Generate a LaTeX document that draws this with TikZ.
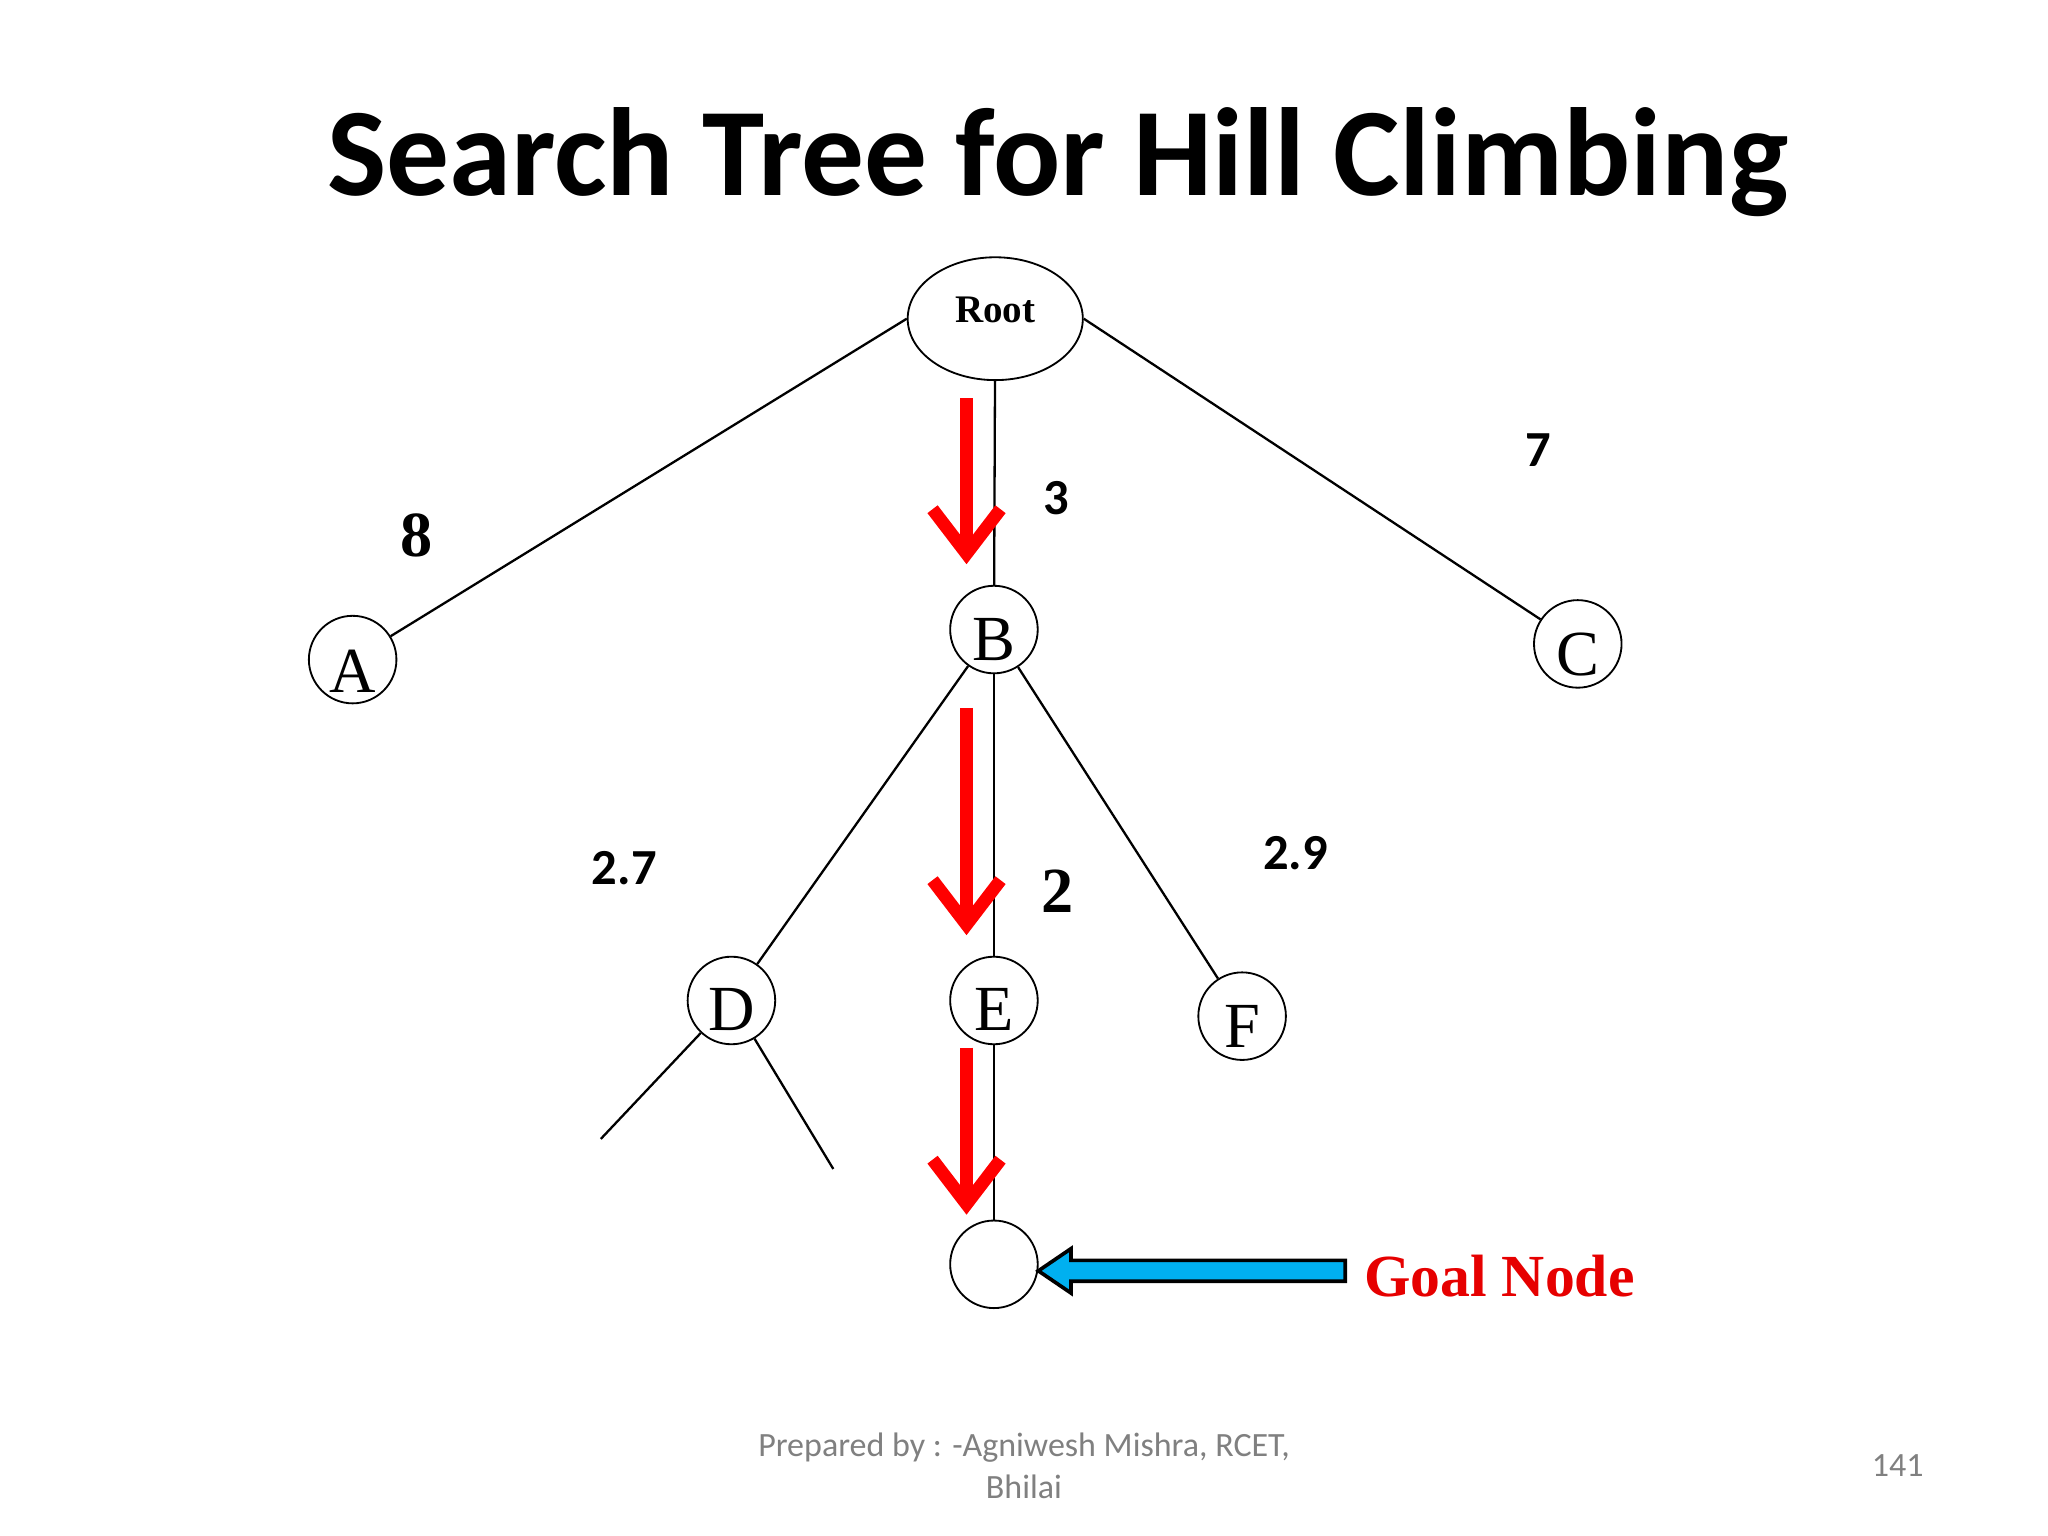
\documentclass[tikz,border=0pt]{standalone}
\usepackage{fontspec}
\setmainfont{Liberation Serif}
\newfontfamily\carl{Carlito}
\usetikzlibrary{arrows.meta,shapes.geometric}
\begin{document}
\begin{tikzpicture}[x=0.01cm,y=-0.01cm,
  nd/.style={draw,circle,minimum size=0.67cm,inner sep=0pt},
  ltr/.style={font=\fontsize{14}{14}\selectfont},
  ln/.style={line width=0.5pt},
  red/.style={draw={rgb,255:red,255;green,0;blue,0},line width=2.8pt,-{Straight Barb[length=3.4mm,width=5.2mm,line width=2.8pt]}},
  lab/.style={font=\carl\bfseries\fontsize{11}{11}\selectfont}]
\useasboundingbox (0,0) rectangle (1568,1176);
\node[font=\carl\bfseries\fontsize{27.3}{27.3}\selectfont] (title) at (810,124) {Search Tree for Hill Climbing};
\node[draw,ellipse,minimum width=1.34cm,minimum height=0.94cm,inner sep=0pt] (root) at (762,244) {};
\node[font=\bfseries\fontsize{8.5}{8.5}\selectfont] (rt) at (762,237) {Root};
\node[nd] (A) at (270,505) {};
\node[nd] (B) at (761,482) {};
\node[nd] (C) at (1208,493) {};
\node[nd] (D) at (560,766) {};
\node[nd] (E) at (761,766) {};
\node[nd] (F) at (951,778) {};
\node[nd] (G) at (761,968) {};
\node[ltr] (tA) at (270,514) {A};
\node[ltr] (tB) at (761,490) {B};
\node[ltr] (tC) at (1208,501) {C};
\node[ltr] (tD) at (560,773) {D};
\node[ltr] (tE) at (761,773) {E};
\node[ltr] (tF) at (951,786) {F};
\coordinate (d1) at (460,872);
\coordinate (d2) at (638,895);
\draw[ln] (root.west) -- (A);
\draw[ln] (root) -- (B);
\draw[ln] (root.east) -- (C);
\draw[ln] (B) -- (D);
\draw[ln] (B) -- (E);
\draw[ln] (B) -- (F);
\draw[ln] (E) -- (G);
\draw[ln] (D) -- (d1);
\draw[ln] (D) -- (d2);
\node[font=\bfseries\fontsize{14}{14}\selectfont] (l8) at (319,410) {8};
\node[lab] (l3) at (809,381) {3};
\node[lab] (l7) at (1178,345) {7};
\node[lab] (l27) at (478,665) {2.7};
\node[font=\bfseries\fontsize{14}{14}\selectfont] (l2) at (810,682) {2};
\node[lab] (l29) at (992,653) {2.9};
\coordinate (r1a) at (740,305); \coordinate (r1b) at (740,432);
\coordinate (r2a) at (740,542); \coordinate (r2b) at (740,716);
\coordinate (r3a) at (740,802); \coordinate (r3b) at (740,930);
\draw[red] (r1a) -- (r1b);
\draw[red] (r2a) -- (r2b);
\draw[red] (r3a) -- (r3b);
\node[font=\bfseries\fontsize{13}{13}\selectfont,text={rgb,255:red,230;green,0;blue,0}] (goal) at (1148,977) {Goal Node};
\draw[fill={rgb,255:red,0;green,176;blue,240},line width=0.8pt] (1030,965) -- (820,965) -- (820,956) -- (795,973) -- (820,990) -- (820,981) -- (1030,981) -- cycle;
\node[font=\carl\fontsize{7.4}{9.2}\selectfont,text=gray,align=center] (foot) at (784,1122) {Prepared by : -Agniwesh Mishra, RCET,\\Bhilai};
\node[font=\carl\fontsize{7.4}{9}\selectfont,text=gray] (pg) at (1453,1122) {141};
\end{tikzpicture}
\end{document}
